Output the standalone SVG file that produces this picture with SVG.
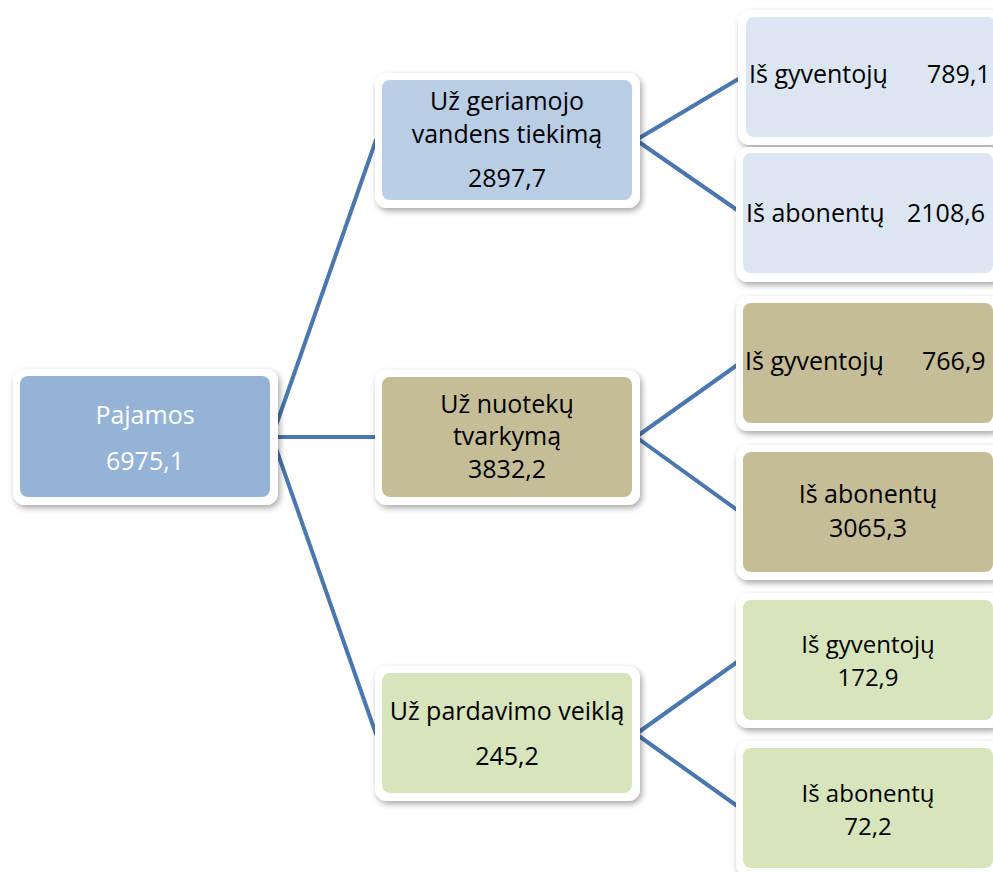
<svg xmlns="http://www.w3.org/2000/svg" width="993" height="872" viewBox="0 0 993 872">
<style>
.frame{fill:#ffffff;filter:url(#sh)}
.t{font-family:"Open Sans","Liberation Sans",sans-serif;font-size:25px;fill:#000000;text-anchor:middle}
.ts{font-size:24px}
.tl{font-family:"Open Sans","Liberation Sans",sans-serif;font-size:25px;fill:#000000}
.w{fill:#ffffff}
.c{stroke:#4a77ad;stroke-width:4;fill:none;stroke-linecap:round}
</style>
<defs>
<filter id="sh" x="-10%" y="-10%" width="125%" height="130%">
<feDropShadow dx="2" dy="3" stdDeviation="3" flood-color="#000000" flood-opacity="0.35"/>
</filter>
</defs>
<rect width="993" height="872" fill="#ffffff"/>
<g id="connectors">
<line class="c" x1="272" y1="437" x2="376" y2="140"/>
<line class="c" x1="272" y1="437" x2="376" y2="437"/>
<line class="c" x1="272" y1="437" x2="376" y2="734"/>
<line class="c" x1="636" y1="140" x2="740" y2="78"/>
<line class="c" x1="636" y1="140" x2="740" y2="212"/>
<line class="c" x1="636" y1="437" x2="740" y2="363"/>
<line class="c" x1="636" y1="437" x2="740" y2="512"/>
<line class="c" x1="636" y1="734" x2="740" y2="660"/>
<line class="c" x1="636" y1="734" x2="740" y2="808"/>
</g>
<g id="root">
<rect class="frame" x="13" y="369" width="265" height="136" rx="12"/>
<rect x="20" y="376" width="250" height="121" rx="8" fill="#95b3d7"/>
<text class="t w" x="145" y="424">Pajamos<tspan x="145" y="470">6975,1</tspan></text>
</g>
<g id="water">
<rect class="frame" x="375" y="73" width="265" height="135" rx="12"/>
<rect x="382" y="80" width="250" height="120" rx="8" fill="#b9cde5"/>
<text class="t" x="507" y="110">Už geriamojo<tspan x="507" y="143">vandens tiekimą</tspan><tspan x="507" y="187">2897,7</tspan></text>
</g>
<g id="sewage">
<rect class="frame" x="375" y="370" width="265" height="135" rx="12"/>
<rect x="382" y="377" width="250" height="120" rx="8" fill="#c4bd97"/>
<text class="t" x="507" y="413">Už nuotekų<tspan x="507" y="445">tvarkymą</tspan><tspan x="507" y="478">3832,2</tspan></text>
</g>
<g id="sales">
<rect class="frame" x="375" y="666" width="265" height="135" rx="12"/>
<rect x="382" y="673" width="250" height="120" rx="8" fill="#d7e4bc"/>
<text class="t" x="507" y="720">Už pardavimo veiklą<tspan x="507" y="765">245,2</tspan></text>
</g>
<g id="water-residents">
<rect class="frame" x="738" y="10" width="265" height="135" rx="12"/>
<rect x="746" y="17" width="250" height="120" rx="8" fill="#dce6f2"/>
<text class="tl" x="749" y="83">Iš gyventojų<tspan x="927" y="83">789,1</tspan></text>
</g>
<g id="water-subscribers">
<rect class="frame" x="736" y="147" width="265" height="135" rx="12"/>
<rect x="743" y="153" width="250" height="120" rx="8" fill="#dce6f2"/>
<text class="tl" x="746" y="222">Iš abonentų<tspan x="907" y="222">2108,6</tspan></text>
</g>
<g id="sewage-residents">
<rect class="frame" x="736" y="296" width="265" height="135" rx="12"/>
<rect x="743" y="303" width="250" height="120" rx="8" fill="#c4bd97"/>
<text class="tl" x="745" y="370">Iš gyventojų<tspan x="922" y="370">766,9</tspan></text>
</g>
<g id="sewage-subscribers">
<rect class="frame" x="736" y="445" width="265" height="135" rx="12"/>
<rect x="743" y="452" width="250" height="120" rx="8" fill="#c4bd97"/>
<text class="t" x="868" y="503">Iš abonentų<tspan x="868" y="537">3065,3</tspan></text>
</g>
<g id="sales-residents">
<rect class="frame" x="736" y="593" width="265" height="135" rx="12"/>
<rect x="743" y="600" width="250" height="120" rx="8" fill="#d7e4bc"/>
<text class="t ts" x="868" y="653">Iš gyventojų<tspan x="868" y="686">172,9</tspan></text>
</g>
<g id="sales-subscribers">
<rect class="frame" x="736" y="741" width="265" height="135" rx="12"/>
<rect x="743" y="748" width="250" height="120" rx="8" fill="#d7e4bc"/>
<text class="t ts" x="868" y="802">Iš abonentų<tspan x="868" y="835">72,2</tspan></text>
</g>
</svg>
